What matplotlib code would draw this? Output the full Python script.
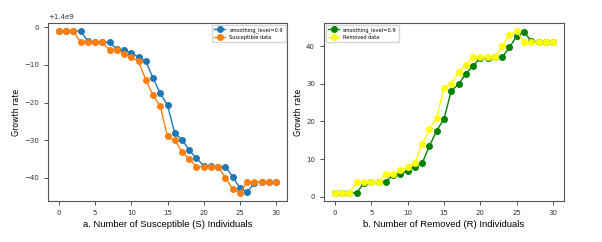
import matplotlib
matplotlib.use("Agg")
import matplotlib.pyplot as plt
import numpy as np

x = list(range(31))
base_total = 1.4e9
# Susceptible values relative to 1.4e9
susceptible_data = [-1, -1, -1, -4, -4, -4, -4, -6, -6, -7, -8, -9, -14, -18, -21, -29, -30,
                    -33, -35, -37, -37, -37, -37, -40, -43, -44, -41, -41, -41, -41, -41]
susceptible_smooth = [-1, -1, -1, -1, -3.7, -3.97, -4.0, -4.0, -5.8, -6.0, -6.9, -7.9, -8.9,
                      -13.5, -17.55, -20.66, -28.17, -29.82, -32.68, -34.77, -36.78, -36.98,
                      -37.0, -37.0, -39.7, -42.67, -43.87, -41.29, -41.03, -41.0, -41.0]
removed_data = [1, 1, 1, 4, 4, 4, 4, 6, 6, 7, 8, 9, 14, 18, 21, 29, 30, 33, 35, 37, 37, 37,
                37, 40, 43, 44, 41, 41, 41, 41, 41]
removed_smooth = [1, 1, 1, 1, 3.7, 3.97, 4.0, 4.0, 5.8, 6.0, 6.9, 7.9, 8.9, 13.5, 17.55,
                  20.66, 28.17, 29.82, 32.68, 34.77, 36.78, 36.98, 37.0, 37.0, 39.7, 42.67,
                  43.87, 41.29, 41.03, 41.0, 41.0]

fig = plt.figure(figsize=(6.02, 2.42), dpi=100)
ax1 = fig.add_axes([48/602, 1 - 201/242, 239/602, 178/242])
ax2 = fig.add_axes([324/602, 1 - 201/242, 240/602, 178/242])

ms = 4
lw = 1.0
leg_kw = dict(fontsize=3.6, frameon=True, borderaxespad=0.3, handlelength=2.2,
              borderpad=0.5, labelspacing=0.4, fancybox=True)
s_arr = base_total + np.array(susceptible_smooth)
d_arr = base_total + np.array(susceptible_data)
ax1.plot(x, s_arr, '-o', color='#1f77b4', ms=ms, lw=lw, label='smoothing_level=0.9')
ax1.plot(x, d_arr, '-o', color='#ff7f0e', ms=ms, lw=lw, label='Susceptible data')
ax1.legend(loc='upper right', **leg_kw)
ax1.set_xlabel('a. Number of Susceptible (S) Individuals', fontsize=6.8,
               family=['Liberation Sans', 'DejaVu Sans'], labelpad=3)
ax1.set_ylabel('Growth rate', fontsize=5.7, labelpad=2)

ax2.plot(x, removed_smooth, '-o', color='green', ms=ms, lw=lw, label='smoothing_level=0.9')
ax2.plot(x, removed_data, '-o', color='yellow', ms=ms, lw=lw, label='Removed data')
ax2.legend(loc='upper left', **leg_kw)
ax2.set_xlabel('b. Number of Removed (R) Individuals', fontsize=6.8,
               family=['Liberation Sans', 'DejaVu Sans'], labelpad=3)
ax2.set_ylabel('Growth rate', fontsize=5.7, labelpad=2)

for ax in (ax1, ax2):
    ax.set_xticks([0, 5, 10, 15, 20, 25, 30])
    ax.tick_params(labelsize=5.0, length=3, width=0.6, colors='#333333')
    for sp in ax.spines.values():
        sp.set_color('#555555')
        sp.set_linewidth(0.8)
    ax.yaxis.get_offset_text().set_fontsize(5.0)

ax1.set_yticks(base_total + np.array([0, -10, -20, -30, -40]))
ax2.set_yticks([0, 10, 20, 30, 40])

fig.savefig('out.png', dpi=100)
